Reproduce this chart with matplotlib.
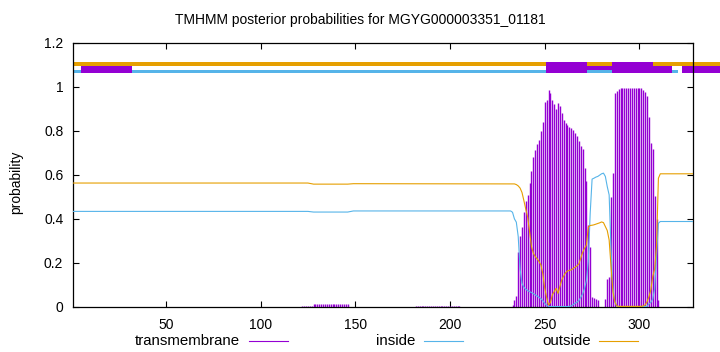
import matplotlib
matplotlib.use("Agg")
import matplotlib.pyplot as plt
from matplotlib.patches import Rectangle
from matplotlib.lines import Line2D

plt.rcParams['font.family'] = ['Liberation Sans', 'DejaVu Sans']

title = "TMHMM posterior probabilities for MGYG000003351_01181"
seq_len = 328

# posterior of "outside" (vertices of the line, residue -> value)
outside_pos = [1, 125, 128, 146, 149] + list(range(234, 312)) + [328]
outside_val = [0.563, 0.563, 0.558, 0.558, 0.560,
               0.559, 0.556, 0.55, 0.54, 0.52, 0.483, 0.444, 0.408, 0.342, 0.274,
               0.244, 0.228, 0.218, 0.206, 0.19, 0.15, 0.084, 0.043, 0.008, 0.019,
               0.054, 0.069, 0.084, 0.061, 0.092, 0.122, 0.14, 0.155, 0.163, 0.166,
               0.168, 0.174, 0.18, 0.186, 0.195, 0.221, 0.247, 0.266, 0.281, 0.362,
               0.37, 0.371, 0.373, 0.376, 0.379, 0.382, 0.386, 0.383, 0.365, 0.347,
               0.304, 0.183, 0.069, 0.023, 0.004,
               0.002, 0.002, 0.002, 0.002, 0.002, 0.002, 0.002, 0.002, 0.002, 0.002,
               0.002, 0.002, 0.002,
               0.004, 0.008, 0.023, 0.046, 0.077, 0.137, 0.172, 0.274, 0.585, 0.605,
               0.605]

# posterior of "inside"
inside_pos = [1, 125, 128, 146, 149, 232] + list(range(233, 312)) + [328]
inside_val = [0.434, 0.434, 0.431, 0.431, 0.436, 0.436,
              0.43, 0.40, 0.385, 0.32, 0.17, 0.107, 0.089, 0.08, 0.074, 0.069,
              0.065, 0.06, 0.054, 0.049, 0.043, 0.037, 0.028, 0.016, 0.007, 0.002,
              0.001, 0.001, 0.001, 0.001, 0.001, 0.001, 0.001, 0.001, 0.001, 0.001,
              0.002, 0.004, 0.01, 0.016, 0.021, 0.028, 0.043, 0.058, 0.084, 0.119,
              0.206, 0.426, 0.581, 0.585, 0.59, 0.593, 0.599, 0.605, 0.608, 0.593,
              0.547, 0.509, 0.259, 0.084, 0.023, 0.003,
              0.001, 0.001, 0.001, 0.001, 0.001, 0.001, 0.001, 0.001, 0.001, 0.001,
              0.001, 0.001, 0.001, 0.001, 0.001,
              0.002, 0.013, 0.02, 0.035, 0.08, 0.23, 0.38, 0.388,
              0.388]

# posterior of "transmembrane" (impulses, nonzero residues only)
tm_pos = list(range(122, 147)) + list(range(182, 206)) + list(range(233, 311))
tm_val = ([0.004] * 6 + [0.011] * 19 + [0.003] * 24 +
          [0.01, 0.03, 0.05, 0.25, 0.32, 0.365, 0.43, 0.48, 0.51, 0.565,
           0.62, 0.68, 0.715, 0.74, 0.76, 0.80, 0.84, 0.93, 0.94, 0.985,
           0.973, 0.94, 0.924, 0.90, 0.927, 0.915, 0.88, 0.85, 0.836, 0.828,
           0.82, 0.813, 0.805, 0.79, 0.775, 0.755, 0.73, 0.72, 0.63, 0.57,
           0.373, 0.274, 0.043, 0.038, 0.035, 0.03, 0.0, 0.0, 0.0, 0.034,
           0.125, 0.137, 0.50, 0.608, 0.973, 0.98, 0.99,
           0.995, 0.995, 0.995, 0.995, 0.995, 0.995, 0.995, 0.995, 0.995, 0.995,
           0.995, 0.995,
           0.985, 0.975, 0.96, 0.863, 0.745, 0.72, 0.505, 0.40, 0.03])

# predicted topology bars above the plot: (start, end, bottom, top)
outside_bar = (1, 343, 1.095, 1.114)
inside_bar = (1, 320.5, 1.062, 1.075)
tm_bars = [(5.2, 32.2, 1.064, 1.097),
           (250.7, 272.4, 1.064, 1.114),
           (272.4, 285.6, 1.076, 1.097),
           (285.6, 307.2, 1.064, 1.114),
           (307.2, 317.3, 1.064, 1.097),
           (322.6, 343, 1.064, 1.097)]

c_tm = '#9400d3'
c_in = '#56b4e9'
c_out = '#e69f00'

fig = plt.figure(figsize=(7.2, 3.52), dpi=100)
ax = fig.add_axes([73 / 720, 1 - 306.8 / 352, (692.5 - 73) / 720, (306.8 - 43) / 352])

ax.vlines(tm_pos, 0, tm_val, color=c_tm, lw=1.0, zorder=2)
ax.plot(inside_pos, inside_val, color=c_in, lw=0.8, zorder=3)
ax.plot(outside_pos, outside_val, color=c_out, lw=0.8, zorder=3)

def bar(spec, color):
    x0, x1, y0, y1 = spec
    ax.add_patch(Rectangle((x0, y0), x1 - x0, y1 - y0, color=color, lw=0,
                           clip_on=False, zorder=1))

bar(outside_bar, c_out)
bar(inside_bar, c_in)
for b in tm_bars:
    bar(b, c_tm)

ax.set_xlim(1, seq_len)
ax.set_ylim(0, 1.2)
ax.set_xticks([50, 100, 150, 200, 250, 300])
ax.set_yticks([0, 0.2, 0.4, 0.6, 0.8, 1.0, 1.2])
ax.set_yticklabels(['0', '0.2', '0.4', '0.6', '0.8', '1', '1.2'])
ax.tick_params(direction='in', top=True, right=True, length=4, width=0.8,
               labelsize=10)
ax.tick_params(axis='x', pad=8)
ax.tick_params(axis='y', pad=7)
for s in ax.spines.values():
    s.set_linewidth(0.9)

fig.text(0.5, 1 - 20 / 352, title, ha='center', va='center', fontsize=10)
fig.text(16 / 720, 1 - 182 / 352, 'probability', rotation=90,
         ha='center', va='center', fontsize=10)

# key at the bottom, gnuplot style (text then line sample)
legend = [('transmembrane', c_tm, 240, 249, 288),
          ('inside', c_in, 415, 424, 463),
          ('outside', c_out, 591, 599, 638)]
ly = 1 - 341 / 352
for label, col, tx, l0, l1 in legend:
    fig.text(tx / 720, ly, label, ha='right', va='center', fontsize=10.8)
    fig.add_artist(Line2D([l0 / 720, l1 / 720], [ly, ly], color=col, lw=0.8))

fig.savefig('out.png', dpi=100)
